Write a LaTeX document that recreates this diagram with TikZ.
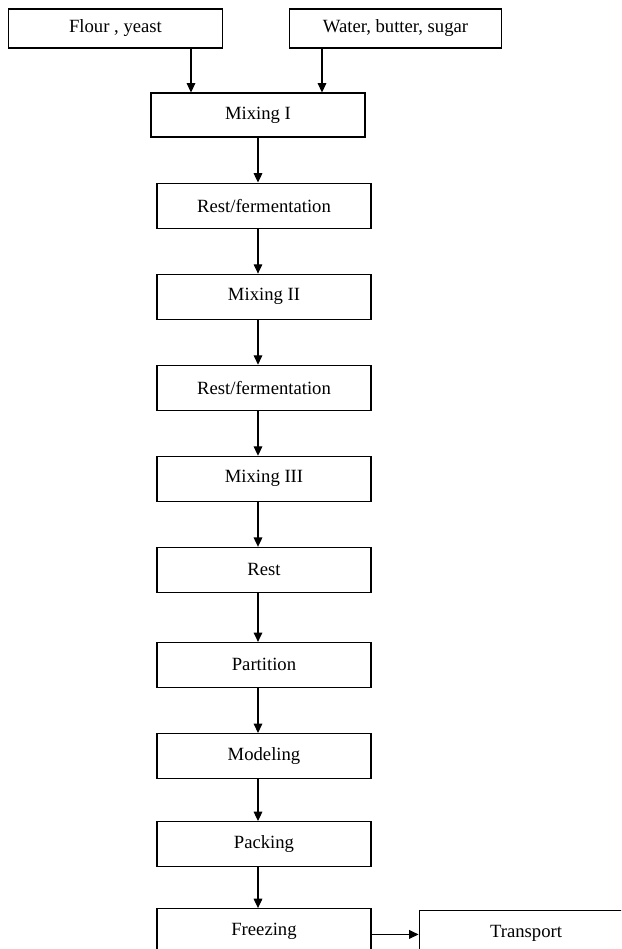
\documentclass[tikz,border=0pt]{standalone}
\usepackage{fontspec}
\setmainfont{Liberation Serif}
\usepackage{tikz}
\usetikzlibrary{positioning,arrows.meta}

\begin{document}
\begin{tikzpicture}[node distance=33.75pt and 35.25pt,
  every node/.style={font=\fontsize{14}{16}\selectfont},
  stage/.style={rectangle,draw,line width=0.8pt,inner sep=0pt,minimum width=160.5pt,minimum height=33.75pt},
  input/.style={stage,minimum height=29.25pt},
  flow/.style={-{Triangle[length=7pt,width=6.5pt]},line width=0.8pt}]
  \useasboundingbox (0,0) rectangle (465.75pt,-711.75pt);
  \clip (0,0) rectangle (465.75pt,-711.75pt);

  \node[input] (flour) at (86.6pt,-21.4pt) {Flour , yeast};
  \node[input,minimum width=159pt] (water) [right=of flour, xshift=14.25pt] {Water, butter, sugar};

  \node[stage,minimum height=33pt] (mix1) at (193.5pt,-86.25pt) {Mixing I};

  \node[stage] (rest1) [below=of mix1, xshift=4.5pt] {Rest/fermentation};
  \node[stage] (mix2) [below=of rest1] {Mixing II};
  \node[stage] (rest2) [below=of mix2] {Rest/fermentation};
  \node[stage] (mix3) [below=of rest2] {Mixing III};
  \node[stage] (rest3) [below=of mix3] {Rest};
  \node[stage] (part) [below=of rest3, yshift=-3pt] {Partition};
  \node[stage] (model) [below=of part] {Modeling};
  \node[stage] (pack) [below=of model, yshift=2.25pt] {Packing};
  \node[stage] (freeze) [below=of pack, yshift=3pt] {Freezing};
  \node[stage] (trans) [right=of freeze, yshift=-1.5pt] {Transport};

  \draw[flow] ([xshift=-50.25pt]mix1.north |- flour.south) -- ([xshift=-50.25pt]mix1.north);
  \draw[flow] ([xshift=48pt]mix1.north |- water.south) -- ([xshift=48pt]mix1.north);

  \draw[flow] (mix1.south) -- (mix1.south |- rest1.north);
  \draw[flow] (rest1.south -| mix1) -- (mix2.north -| mix1);
  \draw[flow] (mix2.south -| mix1) -- (rest2.north -| mix1);
  \draw[flow] (rest2.south -| mix1) -- (mix3.north -| mix1);
  \draw[flow] (mix3.south -| mix1) -- (rest3.north -| mix1);
  \draw[flow] (rest3.south -| mix1) -- (part.north -| mix1);
  \draw[flow] (part.south -| mix1) -- (model.north -| mix1);
  \draw[flow] (model.south -| mix1) -- (pack.north -| mix1);
  \draw[flow] (pack.south -| mix1) -- (freeze.north -| mix1);

  \draw[flow] ([yshift=-2.5pt]freeze.east) -- ([yshift=-2.5pt]freeze.east -| trans.west);
\end{tikzpicture}
\end{document}
